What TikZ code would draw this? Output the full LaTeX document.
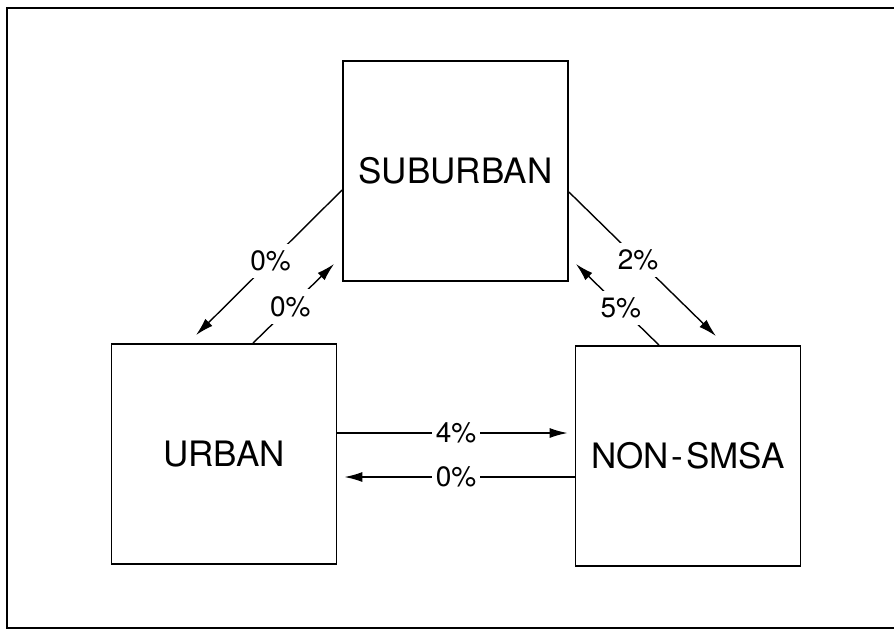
\documentclass[tikz,border=0pt]{standalone}
\usepackage{fontspec}
\setmainfont{TeX Gyre Heros}
\usetikzlibrary{arrows.meta}
\begin{document}
\begin{tikzpicture}[x=1pt,y=-1pt,
  region/.style={draw=black, line width=1.8pt, minimum width=225pt, minimum height=220pt, inner sep=0pt, font=\fontsize{35}{40}\selectfont},
  flow/.style={draw=black, line width=1.4pt, -{Latex[length=18pt,width=10pt]}},
  pct/.style={fill=white, inner xsep=4pt, inner ysep=7pt, font=\fontsize{28}{30}\selectfont},
  frameline/.style={draw=black, line width=1.5pt}]
\useasboundingbox (0,0) rectangle (894,630);
\fill[white] (0,0) rectangle (894,630);
\draw[frameline] (894,8) -- (7,8) -- (7,628) -- (894,628);

\node[region] (sub) at (455.5,171) {SUBURBAN};
\node[region] (urb) at (224,454) {URBAN};
\node[region] (non) at (688,456) {NON\kern3pt-\kern3pt SMSA};

\draw[flow] ([yshift=-19pt]sub.west) -- node[pct, pos=0.49] (l1) {0\%} ([xshift=-28pt,yshift=8pt]urb.north);
\draw[flow] ([xshift=29pt]urb.north) -- node[pct, pos=0.46] (l2) {0\%} ([xshift=-8pt,yshift=18pt]sub.south west);
\draw[flow] ([yshift=-21pt]sub.east) -- node[pct, pos=0.47] (l3) {2\%} ([xshift=28pt,yshift=9pt]non.north);
\draw[flow] ([xshift=-29pt]non.north) -- node[pct, pos=0.46] (l4) {5\%} ([xshift=7pt,yshift=18pt]sub.south east);

\coordinate (u4) at ([yshift=21pt]urb.east);
\coordinate (u0) at ([yshift=-23pt]urb.east);
\draw[flow, shorten >=7pt] (u4) -- node[pct] (l5) {4\%} (u4 -| non.west);
\draw[flow, shorten >=7pt] (u0 -| non.west) -- node[pct] (l6) {0\%} (u0);
\end{tikzpicture}
\end{document}
